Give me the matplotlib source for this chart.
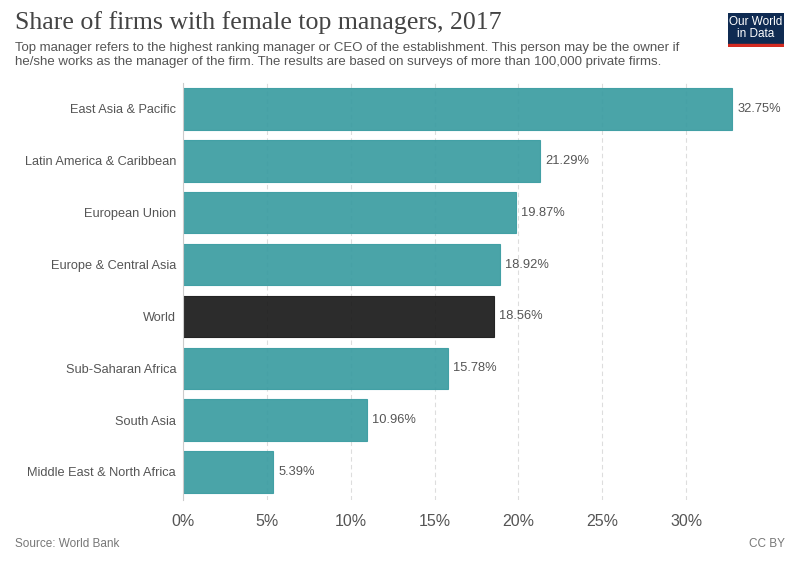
import matplotlib.pyplot as plt

# Data
regions = ["East Asia & Pacific", "Latin America & Caribbean", "European Union",
           "Europe & Central Asia", "World", "Sub-Saharan Africa", "South Asia",
           "Middle East & North Africa"]
shares = [32.75, 21.29, 19.87, 18.92, 18.56, 15.78, 10.96, 5.39]
xticks = [0, 5, 10, 15, 20, 25, 30]

teal = '#3a9ca1'
dark = '#1a1a1a'
colors = [dark if r == "World" else teal for r in regions]

plt.rcParams['font.family'] = ['Liberation Sans', 'DejaVu Sans']

fig = plt.figure(figsize=(8, 5.65), dpi=100)
ax = fig.add_axes([183 / 800, 1 - 500 / 565, 587 / 800, 417 / 565])

y = list(range(len(regions)))
ax.barh(y, shares, height=0.8, color=colors, alpha=0.92, edgecolor=colors, linewidth=0.8, zorder=2)
for yi, v in zip(y, shares):
    ax.text(v + 0.3, yi, f"{v:.2f}%", va='center', ha='left', fontsize=9.3, color='#555555')

ax.set_ylim(7.54, -0.5)
ax.set_xlim(0, 35)
ax.set_yticks(y)
ax.set_yticklabels(regions, fontsize=9.2, color='#555555')
ax.set_xticks(xticks)
ax.set_xticklabels([f"{t}%" for t in xticks], fontsize=11.5, color='#555555')
ax.tick_params(axis='y', length=0, pad=5)
ax.tick_params(axis='x', length=0, pad=10)
ax.xaxis.grid(True, linestyle=(0, (4, 3)), color='#dddddd', linewidth=0.8, zorder=3)
for s in ['top', 'right', 'bottom']:
    ax.spines[s].set_visible(False)
ax.spines['left'].set_color('#cccccc')
ax.spines['left'].set_zorder(4)

fig.text(15 / 800, 1 - 23 / 565, "Share of firms with female top managers, 2017",
         family=['Liberation Serif', 'DejaVu Serif'], fontsize=18.6, color='#444444', va='center')
fig.text(15 / 800, 1 - 55 / 565,
         "Top manager refers to the highest ranking manager or CEO of the establishment. This person may be the owner if\n"
         "he/she works as the manager of the firm. The results are based on surveys of more than 100,000 private firms.",
         fontsize=9.5, color='#555555', va='center', linespacing=1.2)
fig.text(15 / 800, 1 - 544 / 565, "Source: World Bank", fontsize=8.5, color='#777777', va='center')
fig.text(785 / 800, 1 - 544 / 565, "CC BY", fontsize=8.5, color='#777777', va='center', ha='right')

# logo
logo = fig.add_axes([728 / 800, 1 - 47 / 565, 56 / 800, 34 / 565])
logo.set_xlim(0, 1)
logo.set_ylim(0, 1)
logo.axis('off')
logo.add_patch(plt.Rectangle((0, 0.1), 1, 0.9, color='#0f2b52'))
logo.add_patch(plt.Rectangle((0, 0), 1, 0.1, color='#d42b21'))
logo.text(0.5, 0.57, "Our World\nin Data", ha='center', va='center', color='white', fontsize=8.5, linespacing=1.0)

fig.savefig("out.png", dpi=100)
